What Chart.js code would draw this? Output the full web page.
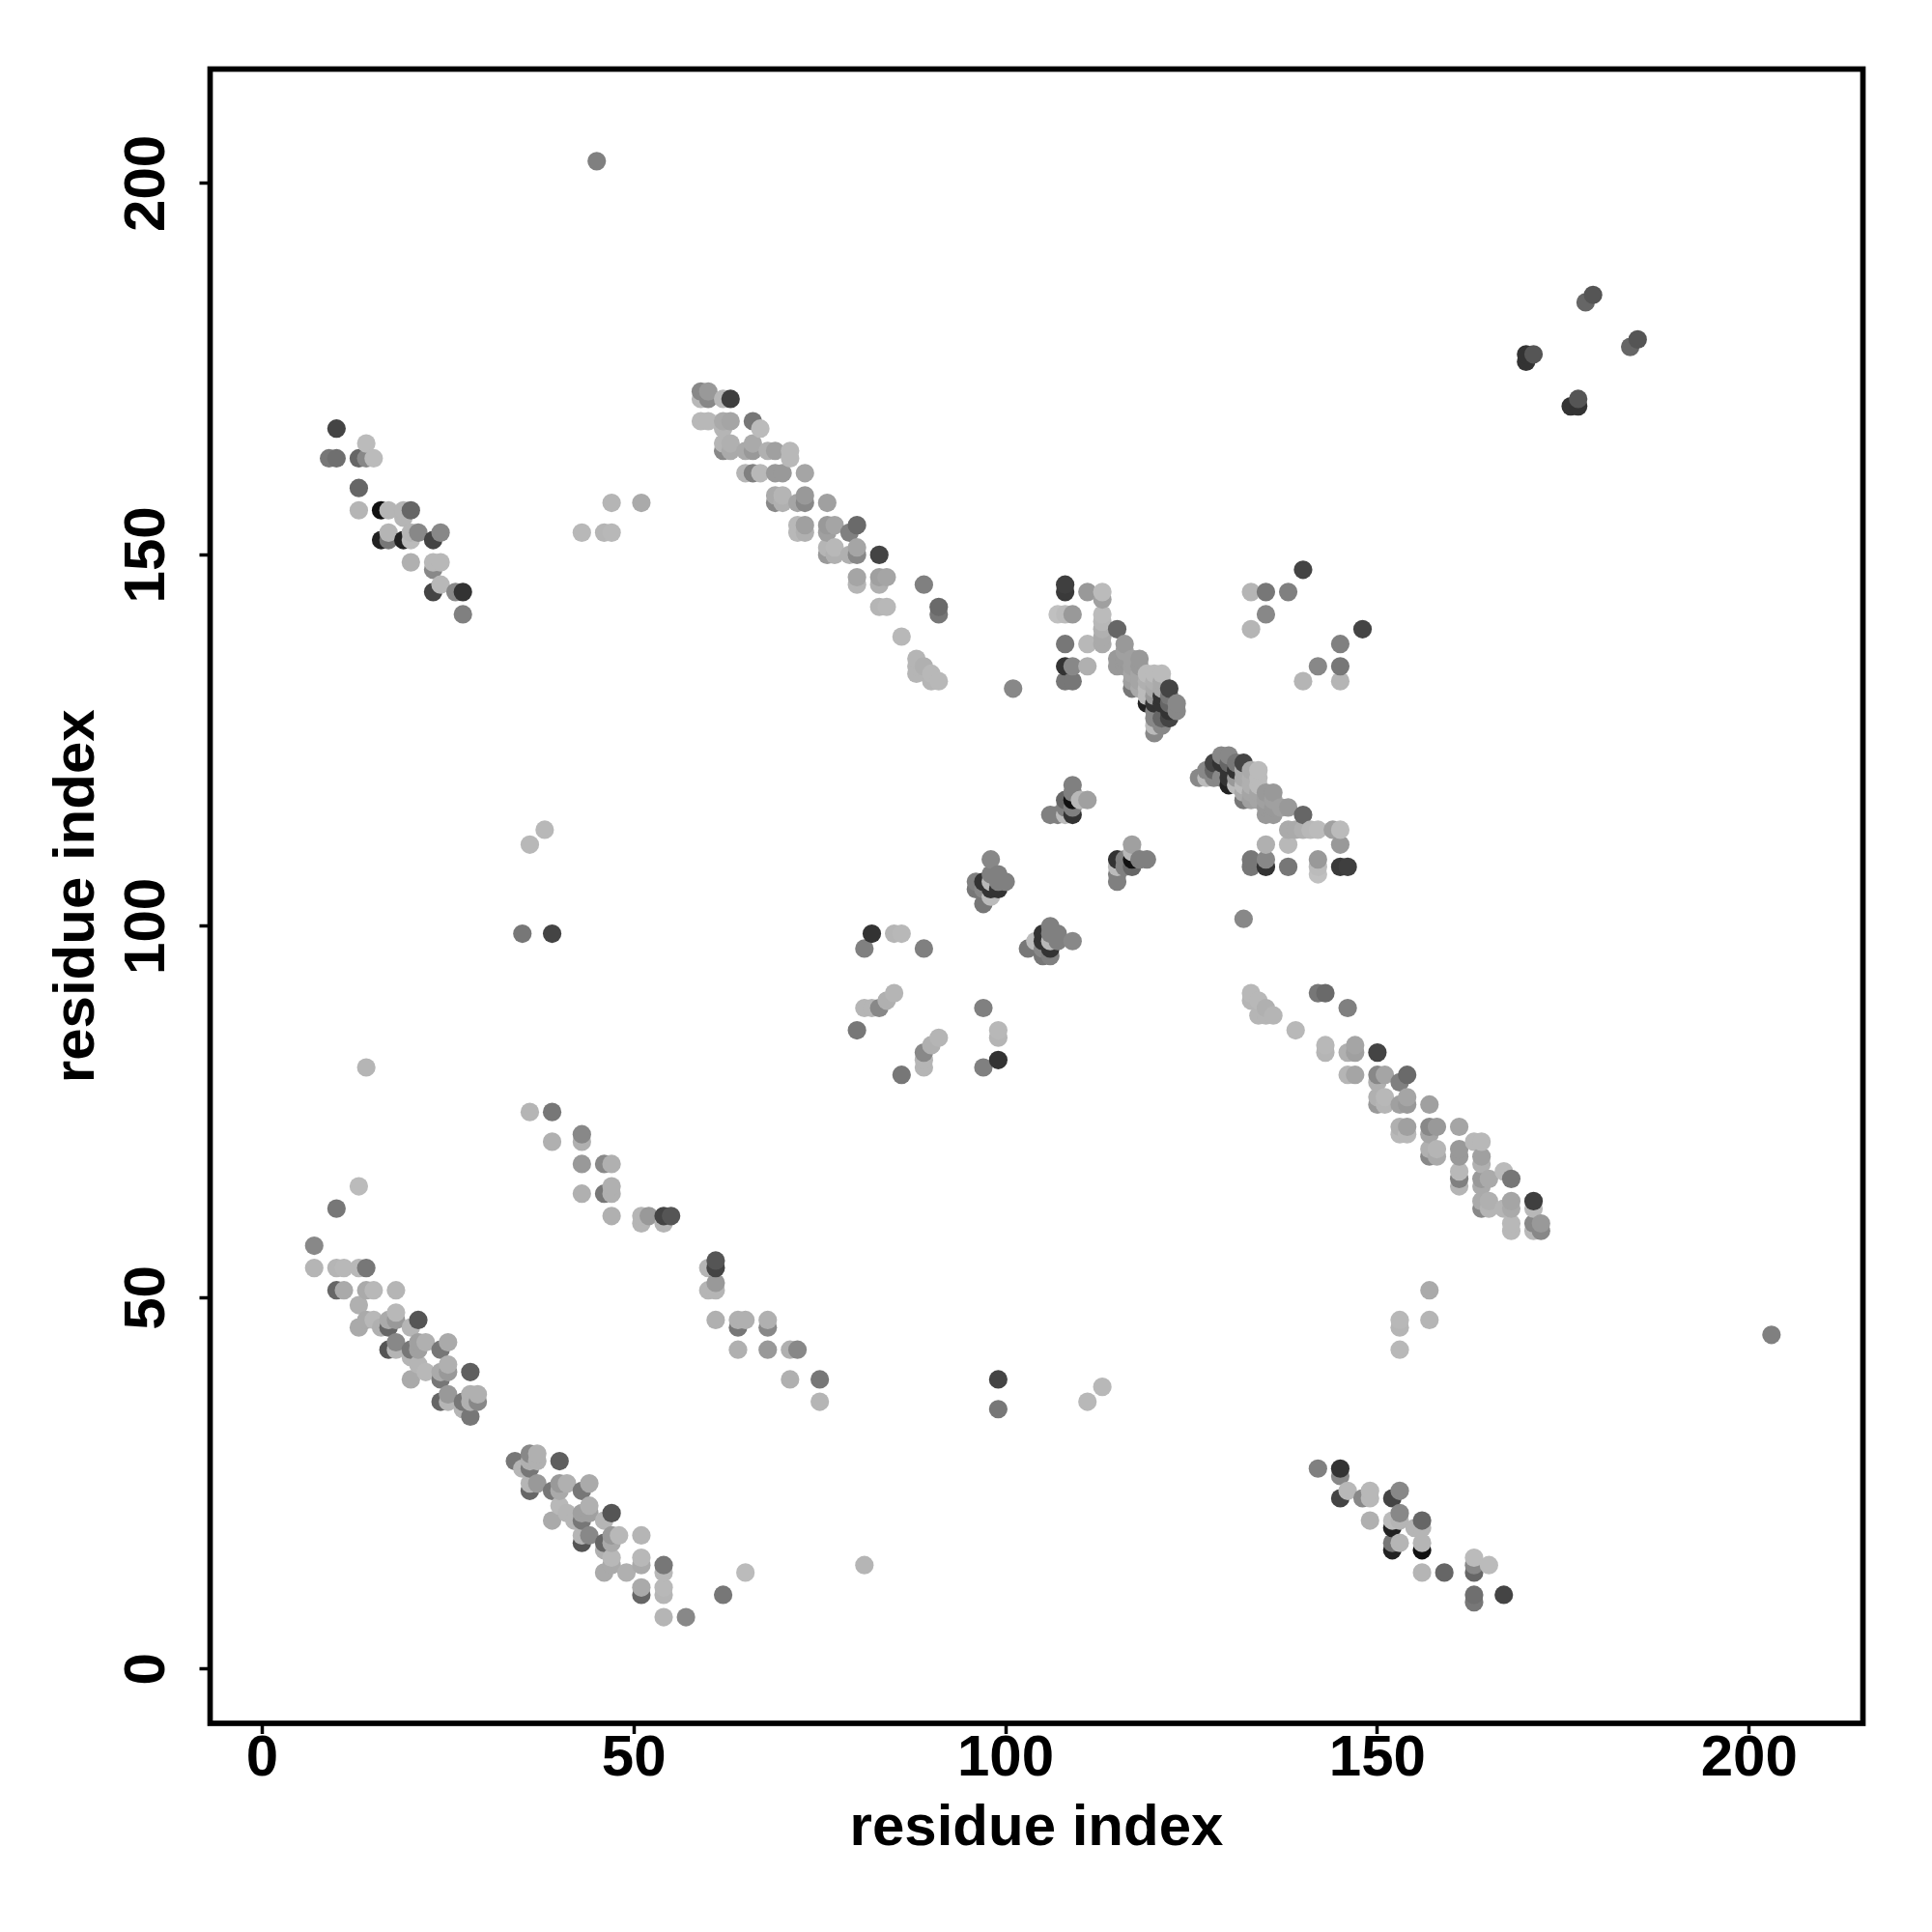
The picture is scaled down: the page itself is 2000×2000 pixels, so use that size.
<!DOCTYPE html>
<html>
<head>
<meta charset="utf-8">
<title>residue contact map</title>
<script src="https://cdn.jsdelivr.net/npm/chart.js@4"></script>
<style>
  html, body { margin: 0; padding: 0; background: #fff; }
  canvas { display: block; }
</style>
</head>
<body>
<canvas id="contactChart" width="2000" height="2000"></canvas>
<script>
// contacts, one per line group; the map is symmetric so each pair is listed once
const residueA = [
  7,7,10,10,11,11,13,13,13,14,14,14,15,15,16,17,17,17,18,18,18,18,18,20,20,20,20,21,21,21,21,22,22,24,24,24,24,25,25,25,25,25,27,27,28,28,28,28,29,29,
  10,13,14,36,38,35,39,45,36,39,39,43,43,43,43,43,46,46,46,47,47,47,47,47,47,51,51,51,52,54,54,55,
  9,10,10,13,13,13,14,14,15,16,16,17,17,17,19,19,19,20,20,20,20,21,23,23,23,23,24,24,24,26,27,27,
  59,59,59,60,60,60,62,62,62,62,62,63,63,63,63,65,65,66,66,66,66,67,67,68,69,69,69,69,70,70,70,71,71,72,72,72,73,73,73,73,73,
  76,76,76,76,76,77,77,77,79,79,80,80,80,80,80,83,83,83,83,84,84,86,88,88,88,89,89,90,90,91,91,91,
  80,81,81,82,82,83,84,85,85,86,89,
  96,96,97,97,97,98,98,98,98,98,99,99,99,100,101,
  106,107,108,108,108,109,109,109,109,109,110,111,
  107,108,108,108,108,108,108,109,109,109,111,111,111,113,113,113,113,113,113,113,
  115,115,115,116,116,116,116,117,117,117,117,117,118,118,118,118,118,119,119,119,119,119,
  120,120,120,120,120,120,120,120,120,121,121,121,121,121,121,121,122,122,122,122,122,123,123,
  133,133,135,135,138,140,170,170,171,178,179
];
const residueB = [
  54,57,51,54,51,54,46,49,54,47,51,54,47,51,46,43,46,47,43,44,47,48,51,39,42,43,46,41,43,44,47,40,44,36,39,40,43,36,37,40,41,44,35,36,34,36,37,40,36,37,
  62,65,81,111,113,99,99,203,75,71,75,64,68,71,72,153,64,68,153,61,64,65,68,153,157,60,61,157,61,60,61,61,
  163,163,167,156,159,163,163,165,163,152,156,152,153,156,152,155,156,149,152,153,156,153,145,148,149,152,146,149,153,145,142,145,
  168,171,172,168,171,172,164,165,167,168,171,164,165,168,171,161,164,161,164,165,168,161,167,164,157,158,161,164,157,158,161,163,164,153,154,157,153,154,157,158,161,
  150,151,153,154,157,150,151,154,150,153,146,147,150,151,154,143,146,147,150,143,147,139,134,135,136,135,146,133,134,133,142,143,
  86,89,97,89,99,89,90,91,99,99,97,
  105,106,103,105,106,104,105,106,107,109,105,106,107,106,132,
  115,115,115,116,117,115,116,117,118,119,117,117,
  142,133,135,138,142,145,146,133,135,142,135,138,145,138,139,140,141,142,144,145,
  135,136,140,135,136,137,138,132,133,134,135,136,132,133,134,135,136,130,131,132,133,134,
  126,127,128,129,130,131,132,133,134,127,128,130,131,132,133,134,128,129,130,131,132,129,130,
  140,145,142,145,145,148,176,177,177,184,185
];
// grey level of each contact, 0 black to 255 white
const contactGrey = [
  181,136,102,181,170,184,170,176,184,170,170,119,184,184,176,85,102,170,181,136,153,184,181,170,181,119,181,181,160,160,85,184,176,102,119,170,119,181,153,153,176,170,181,119,119,176,176,95,136,176,
  119,187,181,184,184,119,68,128,181,176,119,176,153,176,136,184,119,136,181,176,176,176,176,184,181,181,181,170,153,181,68,85,
  119,111,68,181,102,102,136,187,187,34,17,119,181,181,34,181,181,176,187,181,102,136,68,136,184,68,184,184,136,136,128,51,
  184,184,136,184,136,153,136,181,181,170,184,170,176,165,63,181,170,128,153,170,119,184,187,176,136,170,153,160,176,181,153,184,184,184,184,165,176,160,136,153,165,
  153,181,160,153,160,176,184,165,176,128,181,165,136,165,106,181,176,160,68,184,165,184,181,181,181,176,128,181,184,184,119,106,
  119,181,128,181,51,136,176,181,181,184,128,
  119,128,119,136,51,187,51,184,128,136,51,128,128,128,136,
  128,128,187,128,102,51,128,17,128,128,184,160,
  192,119,51,119,187,58,63,119,136,153,176,184,153,170,170,176,184,187,160,187,
  153,153,102,153,153,160,153,119,160,165,160,160,170,165,165,153,153,34,187,187,176,187,
  136,187,136,136,51,153,170,176,187,136,102,51,51,170,170,187,68,51,102,119,68,136,136,
  181,181,136,119,128,68,51,51,85,102,85
];
const tickStep = 50;
const axisLabel = "residue index";

const contactPoints = [];
residueA.forEach((a, i) => {
  contactPoints.push({ x: a, y: residueB[i], grey: contactGrey[i] });
  contactPoints.push({ x: residueB[i], y: a, grey: contactGrey[i] });
});
// later residues paint over earlier ones
contactPoints.sort((p, q) => p.x - q.x || p.y - q.y);

const labelFont = { family: "'Liberation Sans', Arial, sans-serif", size: 60, weight: "bold" };

const framePlugin = {
  id: "frame",
  afterDraw(chart) {
    const { ctx, chartArea } = chart;
    ctx.save();
    ctx.strokeStyle = "#000";
    ctx.lineWidth = 5.7;
    ctx.strokeRect(chartArea.left, chartArea.top, chartArea.right - chartArea.left, chartArea.bottom - chartArea.top);
    ctx.restore();
  },
};

new Chart(document.getElementById("contactChart"), {
  type: "scatter",
  data: {
    datasets: [{
      data: contactPoints,
      pointRadius: 9.6,
      pointHoverRadius: 9.6,
      pointBorderWidth: 0,
      pointBackgroundColor: contactPoints.map((p) => `rgb(${p.grey},${p.grey},${p.grey})`),
    }],
  },
  options: {
    responsive: false,
    animation: false,
    devicePixelRatio: 1,
    layout: { padding: { top: 71.5, right: 71.5, left: 0, bottom: 0 } },
    plugins: { legend: { display: false }, tooltip: { enabled: false } },
    scales: {
      x: {
        type: "linear",
        min: -7,
        max: 215.3,
        afterFit: (scale) => { scale.height = 216; },
        border: { display: false },
        grid: { drawOnChartArea: false, drawTicks: true, tickLength: 11, tickWidth: 3.5, tickColor: "#000" },
        ticks: { stepSize: tickStep, includeBounds: false, maxRotation: 0, color: "#000", font: labelFont, padding: -10 },
        title: { display: true, text: axisLabel, color: "#000", font: labelFont, padding: { top: 2, bottom: 71 } },
      },
      y: {
        type: "linear",
        min: -7.3,
        max: 215.4,
        afterFit: (scale) => { scale.width = 217.5; },
        border: { display: false },
        grid: { drawOnChartArea: false, drawTicks: true, tickLength: 11, tickWidth: 3.5, tickColor: "#000" },
        ticks: { stepSize: tickStep, includeBounds: false, minRotation: 90, maxRotation: 90, crossAlign: "center", color: "#000", font: labelFont, padding: 3 },
        title: { display: true, text: axisLabel, color: "#000", font: labelFont, padding: { top: 44, bottom: 0 } },
      },
    },
  },
  plugins: [framePlugin],
});
</script>
</body>
</html>
